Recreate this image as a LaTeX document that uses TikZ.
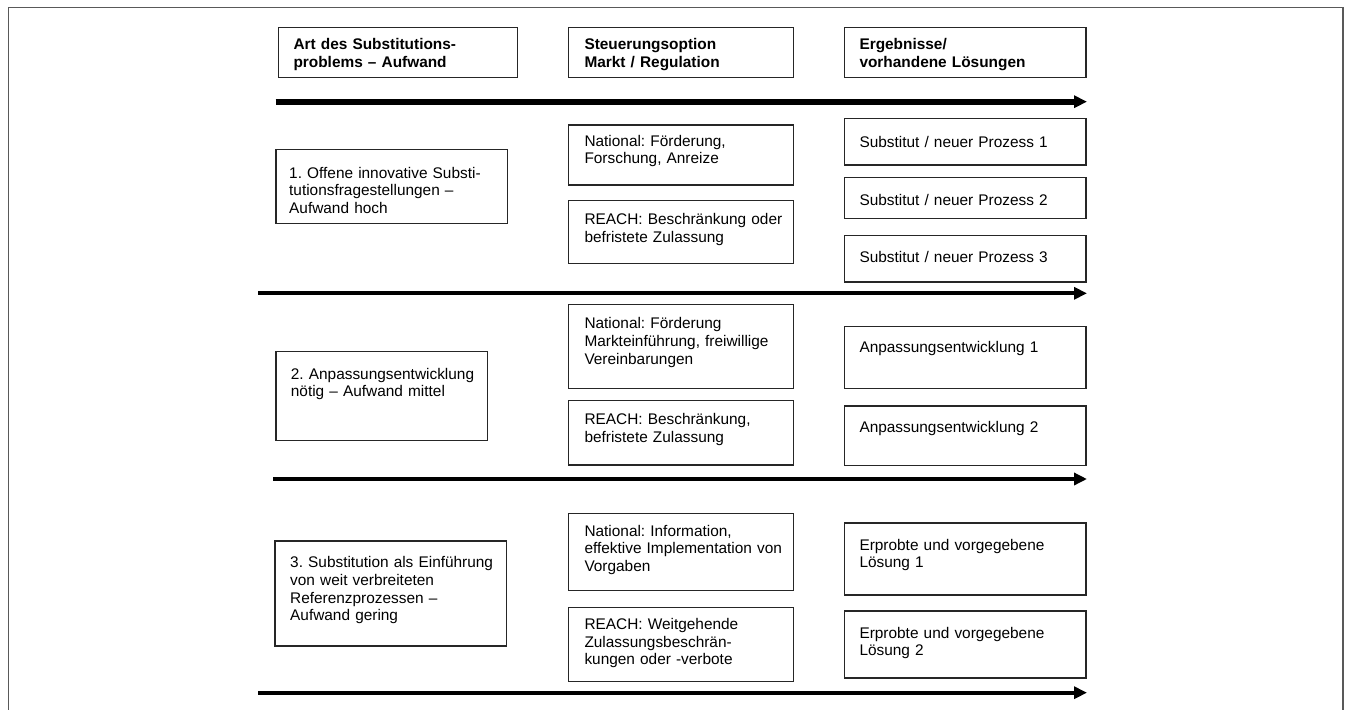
\documentclass[tikz,border=0pt]{standalone}
\usepackage{fontspec}
\setmainfont{Liberation Sans}
\usetikzlibrary{arrows.meta}
\frenchspacing

\tikzset{
  outerframe/.style={draw=black!65, line width=1.1pt},
  box/.style={draw=black!85, line width=1.2pt},
  txt/.style={anchor=base west, inner sep=0pt, text width=320pt, align=left,
              font=\fontsize{15.4}{17.7}\selectfont},
  head/.style={txt, font=\fontsize{15.4}{17.7}\selectfont\bfseries},
  flow/.style={line width=4pt, -{Triangle[length=13pt,width=12pt]}},
  mainflow/.style={flow, line width=5.8pt},
}

\begin{document}
\begin{tikzpicture}[x=1pt, y=-1pt]
\useasboundingbox (0,0) rectangle (1345,710);

% page frame (open at the bottom)
\draw[outerframe] (8.3,712) -- (8.3,7.5) -- (1343,7.5) -- (1343,712);

% ---------- column headings ----------
\draw[box] (278.3,27.3) rectangle (517.3,77.3);
\node[head] (h1) at (293.3,49.3) {Art des Substitutions-\\problems – Aufwand};
\draw[box] (568.3,27.3) rectangle (793.3,77.3);
\node[head] (h2) at (584.3,49.3) {Steuerungsoption\\Markt / Regulation};
\draw[box] (844.3,27.3) rectangle (1086,77.3);
\node[head] (h3) at (859.3,49.3) {Ergebnisse/\\vorhandene Lösungen};

% main flow arrow
\coordinate (m0) at (275.7,101.7);
\coordinate (m1) at (1087,101.7);
\draw[mainflow] (m0) -- (m1);

% ---------- row 1 ----------
\draw[box] (276,149.3) rectangle (507.7,223.3);
\node[txt] (l1) at (289,178) {1. Offene innovative Substi-\\tutionsfragestellungen –\\Aufwand hoch};

\draw[box] (568.7,125) rectangle (793.3,185);
\node[txt] (n1) at (584.3,146) {National: Förderung,\\Forschung, Anreize};
\draw[box] (568.7,200.7) rectangle (793.3,263.3);
\node[txt] (r1) at (584.3,224.3) {REACH: Beschränkung oder\\befristete Zulassung};

\draw[box] (844.3,118.3) rectangle (1086,165);
\node[txt] (s1) at (859.3,147) {Substitut / neuer Prozess 1};
\draw[box] (844.3,177.3) rectangle (1086,218.3);
\node[txt] (s2) at (859.3,205) {Substitut / neuer Prozess 2};
\draw[box] (844.3,235.3) rectangle (1086,282);
\node[txt] (s3) at (859.3,262.7) {Substitut / neuer Prozess 3};

\coordinate (a10) at (258.3,293.3);
\coordinate (a11) at (1087,293.3);
\draw[flow] (a10) -- (a11);

% ---------- row 2 ----------
\draw[box] (276,351.7) rectangle (487.7,440.3);
\node[txt] (l2) at (290.7,379) {2. Anpassungsentwicklung\\nötig – Aufwand mittel};

\draw[box] (568.7,304.3) rectangle (793.3,388.3);
\node[txt] (n2) at (584.3,328.7) {National: Förderung\\Markteinführung, freiwillige\\Vereinbarungen};
\draw[box] (568.7,400.7) rectangle (793.3,465);
\node[txt] (r2) at (584.3,424.3) {REACH: Beschränkung,\\befristete Zulassung};

\draw[box] (844.3,326.7) rectangle (1086,388.3);
\node[txt] (p1) at (859.3,352.7) {Anpassungsentwicklung 1};
\draw[box] (844.3,406) rectangle (1086,465.3);
\node[txt] (p2) at (859.3,432.7) {Anpassungsentwicklung 2};

\coordinate (a20) at (273.3,479);
\coordinate (a21) at (1087,479);
\draw[flow] (a20) -- (a21);

% ---------- row 3 ----------
\draw[box] (275,541) rectangle (506.7,646);
\node[txt] (l3) at (290,567.7) {3. Substitution als Einführung\\von weit verbreiteten\\Referenzprozessen –\\Aufwand gering};

\draw[box] (568.7,513.3) rectangle (793.3,590.7);
\node[txt] (n3) at (584.3,536) {National: Information,\\effektive Implementation von\\Vorgaben};
\draw[box] (568.7,607.3) rectangle (793.3,681.7);
\node[txt] (r3) at (584.3,629.3) {REACH: Weitgehende\\Zulassungsbeschrän-\\kungen oder -verbote};

\draw[box] (844.3,523) rectangle (1086,595);
\node[txt] (e1) at (859.3,550) {Erprobte und vorgegebene\\Lösung 1};
\draw[box] (844.3,611) rectangle (1086,678);
\node[txt] (e2) at (859.3,638) {Erprobte und vorgegebene\\Lösung 2};

\coordinate (a30) at (258.3,692.7);
\coordinate (a31) at (1087,692.7);
\draw[flow] (a30) -- (a31);

\end{tikzpicture}
\end{document}
